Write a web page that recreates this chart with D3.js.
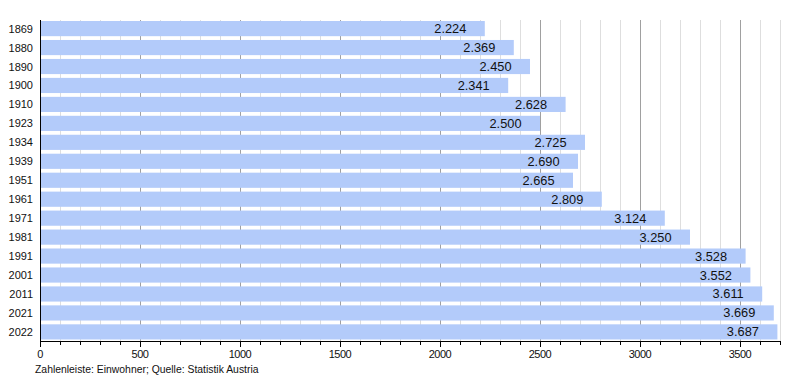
<!DOCTYPE html>
<html><head><meta charset="utf-8">
<script src="https://cdn.jsdelivr.net/npm/d3@7"></script>
<style>body{margin:0;background:#fff}svg{display:block;font-family:"Liberation Sans",Arial,sans-serif}</style>
</head><body><svg id="c" width="800" height="380"></svg>
<script>
const years = ["1869","1880","1890","1900","1910","1923","1934","1939","1951","1961","1971","1981","1991","2001","2011","2021","2022"];
const population = [2224,2369,2450,2341,2628,2500,2725,2690,2665,2809,3124,3250,3528,3552,3611,3669,3687];
const majorTicks = [0,500,1000,1500,2000,2500,3000,3500];
const footer = "Zahlenleiste: Einwohner; Quelle: Statistik Austria";

const svg = d3.select("#c");
const x = d3.scaleLinear().domain([0,3700]).range([40,780]);
const y = d3.scaleBand().domain(years).range([19.5,341]).paddingInner(0.2).paddingOuter(0.08);
const fmt = v => d3.format(",")(v).replace(/,/g,".");

// grid
const minor = d3.range(100,3701,100);
svg.append("g").selectAll("line").data(minor).join("line")
  .attr("x1",d=>Math.round(x(d))+0.5).attr("x2",d=>Math.round(x(d))+0.5)
  .attr("y1",20).attr("y2",341)
  .attr("stroke",d=>d%500===0?"#a0a0a0":"#dedede").attr("stroke-width",1);

// bars
svg.append("g").selectAll("rect").data(years).join("rect")
  .attr("x",x(0)+1).attr("y",d=>y(d))
  .attr("width",(d,i)=>x(population[i])-x(0)-1).attr("height",y.bandwidth())
  .attr("fill","#b3cbfa");

// value labels
svg.append("g").selectAll("text").data(years).join("text")
  .attr("x",(d,i)=>x(population[i])-18.5).attr("y",d=>y(d)+y.bandwidth()/2+4.5)
  .attr("text-anchor","end").attr("font-size",12.8).attr("fill","#111")
  .text((d,i)=>fmt(population[i]));

// year labels
svg.append("g").selectAll("text").data(years).join("text")
  .attr("x",33).attr("y",d=>y(d)+y.bandwidth()/2+4)
  .attr("text-anchor","end").attr("font-size",11).attr("fill","#111")
  .text(d=>d);

// left axis line
svg.append("line").attr("x1",40.5).attr("x2",40.5).attr("y1",20).attr("y2",341.5).attr("stroke","#000");

// bottom axis
const ax = svg.append("g").attr("transform","translate(0,341)");
ax.append("line").attr("x1",40).attr("x2",781).attr("y1",0.5).attr("y2",0.5).attr("stroke","#000");
ax.selectAll("line.mi").data(d3.range(0,3701,100)).join("line").attr("class","mi")
  .attr("x1",d=>Math.round(x(d))+0.5).attr("x2",d=>Math.round(x(d))+0.5)
  .attr("y1",0).attr("y2",d=>d%500===0?6:4).attr("stroke","#000");
ax.selectAll("text").data(majorTicks).join("text")
  .attr("x",d=>x(d)).attr("y",17).attr("text-anchor","middle").attr("font-size",11).attr("fill","#111")
  .attr("letter-spacing",-0.5)
  .text(d=>d);

svg.append("text").attr("x",35).attr("y",373).attr("font-size",10.4).attr("fill","#111").text(footer);
</script></body></html>
